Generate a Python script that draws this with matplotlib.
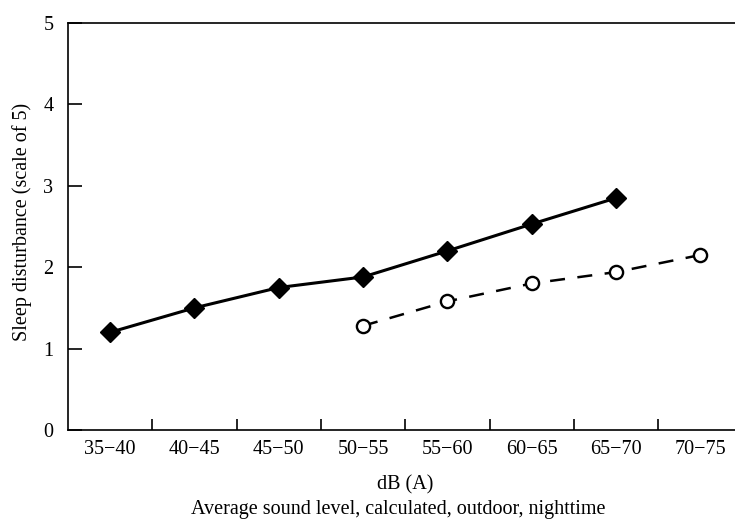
import matplotlib
matplotlib.use("Agg")
from matplotlib import pyplot as plt
import numpy as np

categories = ['35\u221240', '40\u221245', '45\u221250', '50\u221255',
              '55\u221260', '60\u221265', '65\u221270', '70\u221275']
solid_vals = [1.2, 1.5, 1.75, 1.88, 2.2, 2.53, 2.85]
dashed_vals = [1.28, 1.58, 1.8, 1.94, 2.15]
dashed_start = 3

plt.rcParams['font.family'] = ['Liberation Serif', 'DejaVu Serif']
fs = 14.5

fig = plt.figure(figsize=(7.35, 5.21), dpi=100)
ax = fig.add_axes([0.0925, 0.1747, 0.9075, 0.7812])

x = np.arange(len(categories))
ax.plot(x[:len(solid_vals)], solid_vals, color='black', linewidth=2.2,
        marker='D', markersize=10, markerfacecolor='black', markeredgecolor='black')
ax.plot(x[dashed_start:dashed_start + len(dashed_vals)], dashed_vals, color='black',
        linewidth=1.8, dashes=(6, 5), marker='o', markersize=9.5,
        markerfacecolor='white', markeredgecolor='black', markeredgewidth=1.7)

ax.set_xlim(-0.5, 7.41)
ax.set_ylim(0, 5)
ax.spines['right'].set_visible(False)
for s in ['left', 'top', 'bottom']:
    ax.spines[s].set_linewidth(1.2)

ax.set_yticks(range(6))
ax.tick_params(axis='y', direction='in', length=10, width=1.2, pad=10.5, labelsize=fs)

ax.set_xticks(x[:-1] + 0.5)
ax.set_xticklabels([])
ax.set_xticks(x, minor=True)
ax.set_xticklabels(categories, minor=True)
ax.tick_params(axis='x', which='major', direction='in', length=8, width=1.2)
ax.tick_params(axis='x', which='minor', length=0, pad=7, labelsize=fs)

# axis titles placed in figure pixels
fig.text(405 / 735, 1 - 489 / 521, 'dB (A)', fontsize=fs, ha='center', va='baseline')
fig.text(398 / 735, 1 - 514 / 521, 'Average sound level, calculated, outdoor, nighttime',
         fontsize=fs, ha='center', va='baseline')
fig.text(22 / 735, 1 - 222 / 521, 'Sleep disturbance (scale of 5)', fontsize=fs,
         rotation=90, ha='center', va='center')

fig.savefig('out.png', dpi=100, facecolor='white')
